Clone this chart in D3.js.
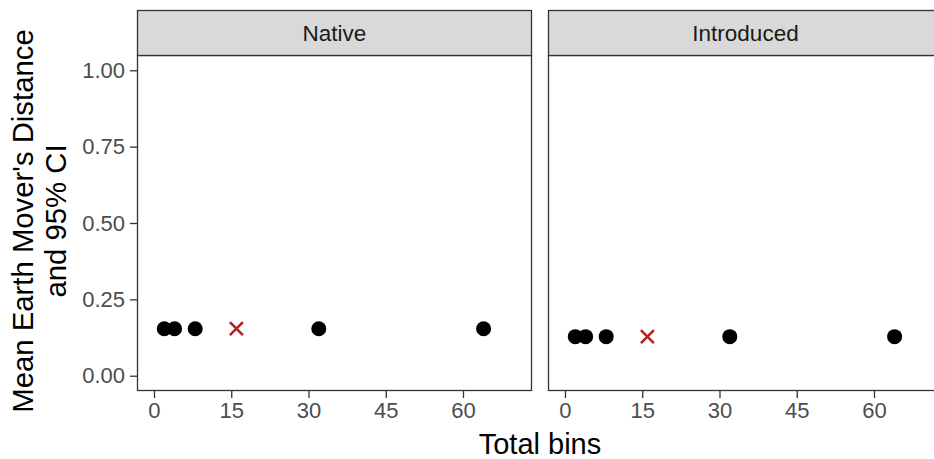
<!DOCTYPE html>
<html>
<head>
<meta charset="utf-8">
<script src="https://cdn.jsdelivr.net/npm/d3@7"></script>
<style>
  html, body { margin: 0; padding: 0; background: #fff; }
  svg { display: block; font-family: "Liberation Sans", Arial, Helvetica, sans-serif; }
</style>
</head>
<body>
<svg id="chart" width="934" height="459"></svg>
<script>
// ---- data ----
const facets = ["Native", "Introduced"];
const bins = [2, 4, 8, 16, 32, 64];
const nativeEMD = [0.154, 0.154, 0.154, 0.154, 0.154, 0.154];
const introducedEMD = [0.128, 0.128, 0.128, 0.128, 0.128, 0.128];
const selectedBins = 16;
const xTicks = [0, 15, 30, 45, 60];
const yTicks = [0, 0.25, 0.5, 0.75, 1.0];
const xTitle = "Total bins";
const yTitleLines = ["Mean Earth Mover's Distance", "and 95% CI"];

const seriesByFacet = {
  "Native": nativeEMD,
  "Introduced": introducedEMD
};

// ---- layout ----
const svg = d3.select("#chart");
const panelW = 395;
const panelLefts = [137, 548];
const stripTop = 10, stripBottom = 55;
const panelTop = 55, panelBottom = 391;
const border = "#333333";

const y = d3.scaleLinear().domain([-0.05, 1.05]).range([panelBottom, panelTop]);

facets.forEach((f, i) => {
  const left = panelLefts[i];
  const x = d3.scaleLinear().domain([-3.3, 73.4]).range([left, left + panelW]);
  const g = svg.append("g");

  g.append("rect")
    .attr("x", left + 0.5).attr("y", panelTop + 0.5)
    .attr("width", panelW - 1).attr("height", panelBottom - panelTop - 1)
    .attr("fill", "#fff").attr("stroke", border).attr("stroke-width", 1.3);

  g.append("rect")
    .attr("x", left + 0.5).attr("y", stripTop + 0.5)
    .attr("width", panelW - 1).attr("height", stripBottom - stripTop)
    .attr("fill", "#D9D9D9").attr("stroke", border).attr("stroke-width", 1.3);
  g.append("text")
    .attr("x", left + panelW / 2).attr("y", (stripTop + stripBottom) / 2 + 8)
    .attr("text-anchor", "middle")
    .attr("font-size", 22.5).attr("fill", "#1A1A1A")
    .text(f);

  const xAxis = d3.axisBottom(x).tickValues(xTicks).tickSize(7).tickPadding(4)
    .tickFormat(d3.format("d"));
  const xg = g.append("g").attr("transform", `translate(0,${panelBottom})`).call(xAxis);
  xg.select(".domain").remove();
  xg.selectAll(".tick line").attr("stroke", border).attr("stroke-width", 1.3);
  xg.selectAll(".tick text").attr("font-size", 22).attr("fill", "#4D4D4D")
    .attr("font-family", "'Liberation Sans', Arial, sans-serif");

  if (i === 0) {
    const yAxis = d3.axisLeft(y).tickValues(yTicks).tickSize(7).tickPadding(5)
      .tickFormat(d3.format(".2f"));
    const yg = g.append("g").attr("transform", `translate(${left},0)`).call(yAxis);
    yg.select(".domain").remove();
    yg.selectAll(".tick line").attr("stroke", border).attr("stroke-width", 1.3);
    yg.selectAll(".tick text").attr("font-size", 22).attr("fill", "#4D4D4D")
      .attr("font-family", "'Liberation Sans', Arial, sans-serif");
  }

  const vals = seriesByFacet[f];
  const pts = bins.map((b, k) => ({ b, v: vals[k] }));
  g.selectAll("circle.pt")
    .data(pts.filter(d => d.b !== selectedBins))
    .enter().append("circle")
    .attr("class", "pt")
    .attr("cx", d => x(d.b)).attr("cy", d => y(d.v))
    .attr("r", 7.5).attr("fill", "#000");

  const sel = pts.filter(d => d.b === selectedBins);
  const s = 6.5;
  sel.forEach(d => {
    const cx = x(d.b), cy = y(d.v);
    g.append("path")
      .attr("d", `M${cx - s},${cy - s}L${cx + s},${cy + s}M${cx - s},${cy + s}L${cx + s},${cy - s}`)
      .attr("stroke", "#B22222").attr("stroke-width", 2.6).attr("fill", "none");
  });
});

svg.append("text")
  .attr("x", 540).attr("y", 454)
  .attr("text-anchor", "middle").attr("font-size", 29).attr("fill", "#000")
  .text(xTitle);

const yTitleX = [33, 66];
yTitleLines.forEach((t, k) => {
  svg.append("text")
    .attr("transform", `translate(${yTitleX[k]},221) rotate(-90)`)
    .attr("text-anchor", "middle").attr("font-size", 29.3).attr("fill", "#000")
    .text(t);
});
</script>
</body>
</html>
